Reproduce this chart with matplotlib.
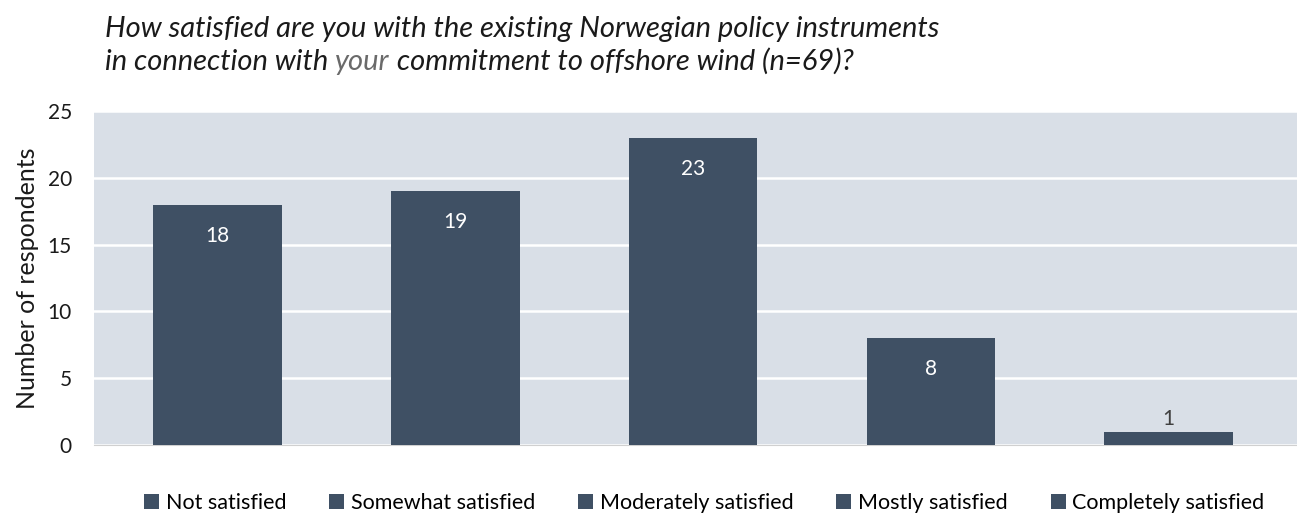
import matplotlib.pyplot as plt
import numpy as np

plt.rcParams['font.family'] = ['Lato', 'DejaVu Sans']

categories = ["Not satisfied", "Somewhat satisfied", "Moderately satisfied",
              "Mostly satisfied", "Completely satisfied"]
values = [18, 19, 23, 8, 1]
yticks = [0, 5, 10, 15, 20, 25]

bar_color = "#3F5064"
bg_color = "#D9DFE7"

fig = plt.figure(figsize=(12.97, 5.15), dpi=100)
ax = fig.add_axes([0.0725, 0.136, 0.9275, 0.648])
ax.set_facecolor(bg_color)

x = np.arange(len(categories))
for i, (cat, v) in enumerate(zip(categories, values)):
    ax.bar(x[i], v, width=0.54, color=bar_color, label=cat, zorder=3)
    if v > 3:
        ax.annotate(str(v), (x[i], v), xytext=(0, -15), textcoords="offset points",
                    ha="center", va="top", color="white", fontsize=15, zorder=4)
    else:
        ax.annotate(str(v), (x[i], v), xytext=(0, 2), textcoords="offset points",
                    ha="center", va="bottom", color="#404040", fontsize=15, zorder=4)

ax.set_xlim(-0.52, 4.54)
ax.set_ylim(0, 25)
ax.set_yticks(yticks)
ax.set_xticks([])
ax.grid(axis="y", color="white", linewidth=1.8, zorder=1)
for s in ["top", "right", "left"]:
    ax.spines[s].set_visible(False)
ax.spines["bottom"].set_color("#d0d0d0")
ax.tick_params(axis="y", length=0, labelsize=15, pad=16, colors="#1a1a1a")
ax.set_ylabel("Number of respondents", fontsize=18, color="#1a1a1a", labelpad=6)

fig.legend(loc="center", bbox_to_anchor=(0.543, 0.024), ncol=5, frameon=False,
           fontsize=15.5, handlelength=0.7, handleheight=0.7, handletextpad=0.3,
           columnspacing=2.0)

# title with "your" in grey
fig.text(0.081, 0.928, "How satisfied are you with the existing Norwegian policy instruments",
         fontsize=21, style="italic", color="#1a1a1a", va="baseline")
t1 = fig.text(0.081, 0.864, "in connection with ", fontsize=21, style="italic",
              color="#1a1a1a", va="baseline")
t2 = ax.annotate("your", xycoords=t1, xy=(1, 0), va="bottom", ha="left",
                 fontsize=21, style="italic", color="#6a6a6a")
ax.annotate(" commitment to offshore wind (n=69)?", xycoords=t2, xy=(1, 0),
            va="bottom", ha="left", fontsize=21, style="italic", color="#1a1a1a")

fig.savefig("out.png", dpi=100)
